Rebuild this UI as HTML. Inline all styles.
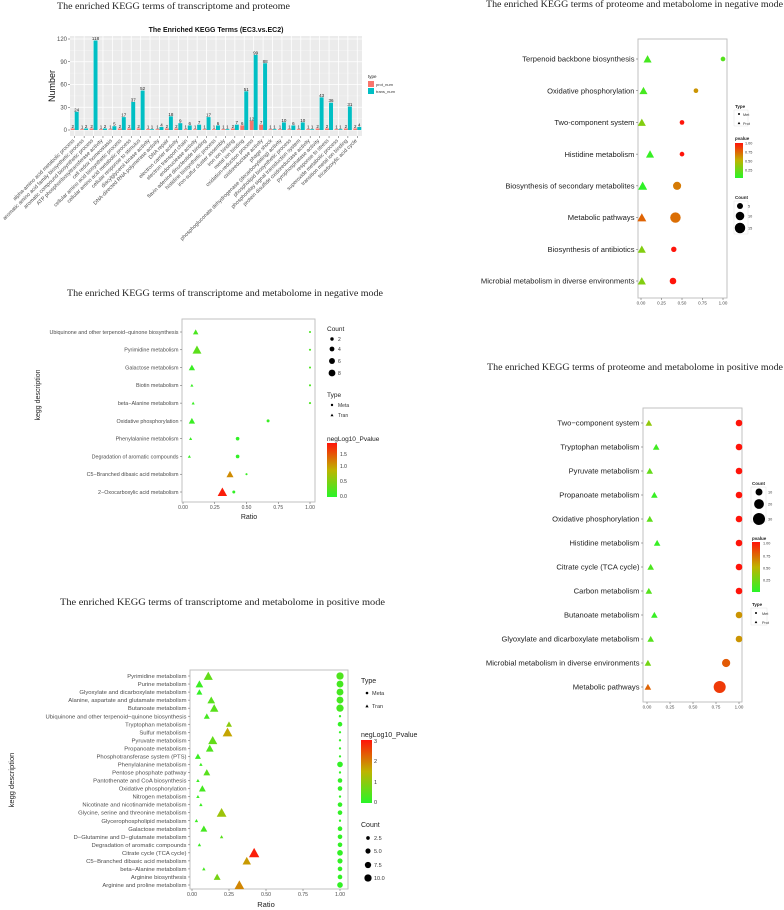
<!DOCTYPE html>
<html><head><meta charset="utf-8">
<style>
html,body{margin:0;padding:0;background:#fff;width:784px;height:910px;overflow:hidden}
svg{display:block;font-family:"Liberation Sans",sans-serif}
.ttl{font-family:"Liberation Serif",serif;font-size:9.5px;fill:#222}
</style></head>
<body>
<svg id="fig" width="784" height="910" viewBox="0 0 784 910">
<text class="ttl" x="57" y="9" textLength="233" lengthAdjust="spacingAndGlyphs">The enriched KEGG terms of transcriptome and proteome</text>
<text class="ttl" x="486" y="7" textLength="297" lengthAdjust="spacingAndGlyphs">The enriched KEGG terms of proteome and metabolome in negative mode</text>
<text class="ttl" x="67" y="296" textLength="316" lengthAdjust="spacingAndGlyphs">The enriched KEGG terms of transcriptome and metabolome in negative mode</text>
<text class="ttl" x="487" y="370" textLength="296" lengthAdjust="spacingAndGlyphs">The enriched KEGG terms of proteome and metabolome in positive mode</text>
<text class="ttl" x="60" y="605" textLength="325" lengthAdjust="spacingAndGlyphs">The enriched KEGG terms of transcriptome and metabolome in positive mode</text>
</svg>
<script>
// ---------- Panel 1: bar chart data ----------
const barCategories = ["alpha-amino acid metabolic process","aromatic amino acid family biosynthetic process","aromatic compound biosynthetic process","ATP phosphoribosyltransferase activity","cell redox homeostasis","cellular amino acid biosynthetic process","cellular amino acid metabolic process","cellular response to stimulus","diacylglycerol kinase activity","DNA-directed RNA polymerase activity","DNA repair","electron carrier activity","electron transport chain","endonuclease activity","flavin adenine dinucleotide binding","histidine biosynthetic process","iron-sulfur cluster assembly","iron ion binding","metal ion binding","oxidation-reduction process","oxidoreductase activity","phage shock","phosphogluconate dehydrogenase (decarboxylating) activity","phospholipid biosynthetic process","phosphorelay signal transduction system","protein disulfide oxidoreductase activity","pyrophosphatase activity","response to stress","superoxide metabolic process","transition metal ion binding","tricarboxylic acid cycle"];
const protNum = [2,1,2,1,1,2,2,2,1,1,2,2,1,1,1,1,1,2,6,12,7,1,1,1,1,1,2,2,1,2,2];
const transNum = [24,2,118,2,5,17,37,52,1,4,18,9,6,7,17,6,1,7,51,99,88,1,10,6,10,1,43,36,1,31,4];
const barTicks = [0,30,60,90,120];

// ---------- Panel 2: proteome & metabolome negative ----------
const p2Terms = ["Terpenoid backbone biosynthesis","Oxidative phosphorylation","Two-component system","Histidine metabolism","Biosynthesis of secondary metabolites","Metabolic pathways","Biosynthesis of antibiotics","Microbial metabolism in diverse environments"];
const p2TriRatio = [0.08,0.03,0.01,0.11,0.02,0.01,0.01,0.01];
const p2TriCount = [4,4,4,4,5,5,4,4];
const p2TriP = [0.1,0.1,0.3,0.05,0.02,0.75,0.3,0.3];
const p2CirRatio = [1.0,0.67,0.5,0.5,0.44,0.42,0.4,0.39];
const p2CirCount = [3,3,3,3,9,15,4,6];
const p2CirP = [0.15,0.6,1.0,1.0,0.68,0.72,1.0,1.0];

// ---------- Panel 3: transcriptome & metabolome negative ----------
const p3Terms = ["Ubiquinone and other terpenoid\u2212quinone biosynthesis","Pyrimidine metabolism","Galactose metabolism","Biotin metabolism","beta\u2212Alanine metabolism","Oxidative phosphorylation","Phenylalanine metabolism","Degradation of aromatic compounds","C5\u2212Branched dibasic acid metabolism","2\u2212Oxocarboxylic acid metabolism"];
const p3TriRatio = [0.1,0.11,0.07,0.07,0.08,0.07,0.06,0.05,0.37,0.31];
const p3TriCount = [3,8,4,1,1,4,1,1,5,9];
const p3TriP = [0.2,0.3,0.1,0.1,0.1,0.1,0.1,0.1,1.1,1.7];
const p3CirRatio = [1.0,1.0,1.0,1.0,1.0,0.67,0.43,0.43,0.5,0.4];
const p3CirCount = [1,1,1,1,1,2,3,3,1,2];
const p3CirP = [0.2,0.2,0.2,0.2,0.2,0.1,0.05,0.05,0.1,0.05];

// ---------- Panel 4: transcriptome & metabolome positive ----------
const p4Terms = ["Pyrimidine metabolism","Purine metabolism","Glyoxylate and dicarboxylate metabolism","Alanine, aspartate and glutamate metabolism","Butanoate metabolism","Ubiquinone and other terpenoid\u2212quinone biosynthesis","Tryptophan metabolism","Sulfur metabolism","Pyruvate metabolism","Propanoate metabolism","Phosphotransferase system (PTS)","Phenylalanine metabolism","Pentose phosphate pathway","Pantothenate and CoA biosynthesis","Oxidative phosphorylation","Nitrogen metabolism","Nicotinate and nicotinamide metabolism","Glycine, serine and threonine metabolism","Glycerophospholipid metabolism","Galactose metabolism","D\u2212Glutamine and D\u2212glutamate metabolism","Degradation of aromatic compounds","Citrate cycle (TCA cycle)","C5\u2212Branched dibasic acid metabolism","beta\u2212Alanine metabolism","Arginine biosynthesis","Arginine and proline metabolism"];
const p4TriRatio = [0.11,0.05,0.05,0.13,0.15,0.1,0.25,0.24,0.14,0.12,0.04,0.06,0.1,0.04,0.07,0.04,0.06,0.2,0.03,0.08,0.2,0.05,0.42,0.37,0.08,0.17,0.32];
const p4TriCount = [7,5,3,5,6,3,3,8,7,5,3,1,4,1,4,1,1,8,1,4,1,1,9,6,1,4,8];
const p4TriP = [0.6,0.2,0.1,0.5,0.5,0.3,1.0,1.7,0.6,0.4,0.2,0.2,0.5,0.2,0.3,0.2,0.2,1.2,0.2,0.3,0.5,0.2,3.0,1.8,0.3,0.8,2.0];
const p4CirRatio = [1,1,1,1,1,1,1,1,1,1,1,1,1,1,1,1,1,1,1,1,1,1,1,1,1,1,1];
const p4CirCount = [10,9,9,9,10,1,4,1,1,1,1,6,1,4,4,1,4,4,1,4,4,4,6,5,4,4,6];
const p4CirP = [0.4,0.3,0.3,0.3,0.3,0.1,0.1,0.1,0.1,0.1,0.1,0.1,0.1,0.1,0.1,0.1,0.1,0.1,0.1,0.1,0.1,0.1,0.1,0.1,0.1,0.1,0.1];

// ---------- Panel 5: proteome & metabolome positive ----------
const p5Terms = ["Two\u2212component system","Tryptophan metabolism","Pyruvate metabolism","Propanoate metabolism","Oxidative phosphorylation","Histidine metabolism","Citrate cycle (TCA cycle)","Carbon metabolism","Butanoate metabolism","Glyoxylate and dicarboxylate metabolism","Microbial metabolism in diverse environments","Metabolic pathways"];
const p5TriRatio = [0.02,0.1,0.03,0.08,0.03,0.11,0.04,0.02,0.08,0.04,0.01,0.01];
const p5TriCount = [4,4,4,4,4,4,4,4,4,4,4,4];
const p5TriP = [0.35,0.08,0.2,0.05,0.18,0.05,0.12,0.15,0.05,0.15,0.25,0.75];
const p5CirRatio = [1,1,1,1,1,1,1,1,1,1,0.86,0.79];
const p5CirCount = [9,9,9,9,9,9,9,9,9,9,14,30];
const p5CirP = [1,1,1,1,1,1,1,1,0.6,0.6,0.78,0.88];

const svg = document.getElementById('fig');
const NS = 'http://www.w3.org/2000/svg';
function mk(tag, attrs, parent){
  const e = document.createElementNS(NS, tag);
  for (const k in attrs) e.setAttribute(k, attrs[k]);
  (parent||svg).appendChild(e);
  return e;
}
function txt(x,y,s,size,fill,anchor,extra){
  const t = mk('text', Object.assign({x:x,y:y,'font-size':size,fill:fill||'#4d4d4d','text-anchor':anchor||'start'}, extra||{}));
  t.textContent = s;
  return t;
}
function lerp(a,b,t){return Math.round(a+(b-a)*t);}
function pcolor(f){
  f=Math.max(0,Math.min(1,f));
  const s=[[0,[40,245,40]],[0.5,[190,180,0]],[1,[255,20,10]]];
  let i = f<=0.5?0:1; const a=s[i], b=s[i+1]; const t=(f-a[0])/(b[0]-a[0]);
  return 'rgb('+lerp(a[1][0],b[1][0],t)+','+lerp(a[1][1],b[1][1],t)+','+lerp(a[1][2],b[1][2],t)+')';
}
function tri(cx,cy,h,fill){
  return mk('polygon',{points:(cx-h)+','+(cy+h*0.85)+' '+(cx+h)+','+(cy+h*0.85)+' '+cx+','+(cy-h*0.95),fill:fill});
}

// ================= Panel 1: bar chart =================
(function(){
  const L=70,R=362,T=36,B=136;
  const y0=130, yTop=39, vTop=120;
  const yS = v => y0 - (v/vTop)*(y0-yTop);
  const bw=(R-L)/barCategories.length;
  const xC = i => L + bw*(i+0.5);
  const bg=mk('rect',{x:L,y:T,width:R-L,height:B-T,fill:'#ebebeb'});
  
  
  for(let v=15; v<=vTop; v+=30) mk('line',{x1:L,x2:R,y1:yS(v),y2:yS(v),stroke:'#f5f5f5','stroke-width':0.5});
  barTicks.forEach(v=>{
    mk('line',{x1:L,x2:R,y1:yS(v),y2:yS(v),stroke:'#fff','stroke-width':0.8});
    mk('line',{x1:L-2,x2:L,y1:yS(v),y2:yS(v),stroke:'#444','stroke-width':0.5});
    const t=txt(L-3,yS(v)+2,String(v),6,'#4d4d4d','end');
    
    
  });
  barCategories.forEach((c,i)=>{
    mk('line',{x1:xC(i),x2:xC(i),y1:T,y2:B,stroke:'#fff','stroke-width':0.8});
  });
  barCategories.forEach((c,i)=>{
    const x=xC(i), w=bw*0.42;
    const r1=mk('rect',{x:x-w,y:yS(protNum[i]),width:w,height:y0-yS(protNum[i]),fill:'#f8766d'});
    
    
    const r2=mk('rect',{x:x,y:yS(transNum[i]),width:w,height:y0-yS(transNum[i]),fill:'#00bfc4'});
    
    
    txt(x-w/2,yS(protNum[i])-0.5,String(protNum[i]),4.5,'#222','middle');
    txt(x+w/2,yS(transNum[i])-0.5,String(transNum[i]),4.5,'#222','middle');
    mk('line',{x1:x,x2:x,y1:B,y2:B+2,stroke:'#444','stroke-width':0.5});
    const lb=txt(x,B+5,c,5.3,'#4d4d4d','end',{transform:'rotate(-45 '+x+' '+(B+5)+')'});
    
    
  });
  const ct=txt((L+R)/2,32,'The Enriched KEGG Terms (EC3.vs.EC2)',7,'#111','middle',{'font-weight':'bold'});
  
  
  const yl=txt(55,86,'Number',9,'#111','middle',{transform:'rotate(-90 55 86)'});
  
  
  txt(368,78,'type',4.5,'#222');
  const lg1=mk('rect',{x:368,y:81,width:6,height:6,fill:'#f8766d'});
  
  
  txt(376,86,'prot_num',4,'#333');
  const lg2=mk('rect',{x:368,y:88,width:6,height:6,fill:'#00bfc4'});
  
  
  txt(376,93,'trans_num',4,'#333');
})();

// ================= generic dot panel =================
function dotPanel(o){
  const box=mk('rect',{x:o.L,y:o.T,width:o.R-o.L,height:o.B-o.T,fill:'#fff',stroke:'#bcbcbc','stroke-width':0.9});
  
  
  const xS = v => o.x0 + v*(o.x1-o.x0);
  const n=o.terms.length;
  const yS = i => o.yFirst + i*(o.yLast-o.yFirst)/(n-1);
  ['0.00','0.25','0.50','0.75','1.00'].forEach(s=>{
    const v=parseFloat(s);
    mk('line',{x1:xS(v),x2:xS(v),y1:o.B,y2:o.B+2,stroke:'#555','stroke-width':0.5});
    const t=txt(xS(v),o.B+2+o.tickFs,s,o.tickFs,'#4d4d4d','middle');
    
    
  });
  o.terms.forEach((term,i)=>{
    const y=yS(i);
    mk('line',{x1:o.L-2,x2:o.L,y1:y,y2:y,stroke:'#555','stroke-width':0.5});
    const t=txt(o.L-3.5,y+o.labFs*0.35,term,o.labFs,o.labFill,'end');
    
    
  });
  o.terms.forEach((term,i)=>{
    const y=yS(i);
    const rc=o.k*Math.sqrt(o.cirCount[i]);
    const c=mk('circle',{cx:xS(o.cirRatio[i]),cy:y,r:rc,fill:pcolor(o.cirP[i]/o.pMax)});
    
    
    const rt=o.k*Math.sqrt(o.triCount[i])*1.5;
    const p=tri(xS(o.triRatio[i]),y,rt,pcolor(o.triP[i]/o.pMax));
    
    
  });
}
function gradBar(id,x,y,w,h){
  const defs=mk('defs',{});
  const g=mk('linearGradient',{id:id,x1:0,y1:1,x2:0,y2:0},defs);
  [0,0.25,0.5,0.75,1].forEach(f=>mk('stop',{offset:f,'stop-color':pcolor(f)},g));
  const r=mk('rect',{x:x,y:y,width:w,height:h,fill:'url(#'+id+')'});
  
  
}

// Panel 2
dotPanel({name:'prot-met-neg',terms:p2Terms,triRatio:p2TriRatio,triCount:p2TriCount,triP:p2TriP,cirRatio:p2CirRatio,cirCount:p2CirCount,cirP:p2CirP,pMax:1,
  L:638,R:727,T:39,B:298,x0:641,x1:723,yFirst:59,yLast:281,k:1.35,labFs:7.6,labFill:'#222',tickFs:4.5});
(function(){
  txt(735,108,'Type',4.5,'#222','start',{'font-weight':'bold'});
  mk('rect',{x:734,y:110,width:14,height:16,fill:'none',stroke:'#ddd','stroke-width':0.4});
  mk('circle',{cx:739,cy:114,r:1,fill:'#000'}); txt(743,116,'Met',3.8,'#333');
  tri(739,123,1.3,'#000'); txt(743,125,'Prot',3.8,'#333');
  txt(735,140,'pvalue',4.5,'#222','start',{'font-weight':'bold'});
  gradBar('g2',735,143,8,35);
  [['1.00',143],['0.75',152],['0.50',161],['0.25',170]].forEach(a=>txt(745,a[1]+1.5,a[0],3.8,'#333'));
  txt(735,199,'Count',4.5,'#222','start',{'font-weight':'bold'});
  mk('rect',{x:734,y:201,width:14,height:33,fill:'none',stroke:'#ddd','stroke-width':0.4});
  [[5,206],[10,216],[15,228]].forEach(a=>{mk('circle',{cx:740,cy:a[1],r:1.35*Math.sqrt(a[0]),fill:'#000'});txt(748,a[1]+1.5,String(a[0]),3.8,'#333');});
})();

// Panel 3
dotPanel({name:'tran-met-neg',terms:p3Terms,triRatio:p3TriRatio,triCount:p3TriCount,triP:p3TriP,cirRatio:p3CirRatio,cirCount:p3CirCount,cirP:p3CirP,pMax:1.75,
  L:182,R:315,T:319,B:502,x0:183,x1:310,yFirst:332,yLast:492,k:1.05,labFs:5.4,labFill:'#4d4d4d',tickFs:5});
(function(){
  const yt=txt(40,395,'kegg description',7,'#222','middle',{transform:'rotate(-90 40 395)'});
  
  
  const xt=txt(249,519,'Ratio',7,'#222','middle');
  
  
  txt(327,331,'Count',6.5,'#222');
  [[2,339],[4,349],[6,361],[8,373]].forEach(a=>{mk('circle',{cx:332,cy:a[1],r:1.05*Math.sqrt(a[0])*1.15,fill:'#000'});txt(338,a[1]+2,String(a[0]),5,'#333');});
  txt(327,397,'Type',6.5,'#222');
  mk('circle',{cx:332,cy:405,r:1.2,fill:'#000'}); txt(338,407,'Meta',5,'#333');
  tri(332,415,1.5,'#000'); txt(338,417,'Tran',5,'#333');
  txt(327,441,'negLog10_Pvalue',6.5,'#222');
  gradBar('g3',327,443,10,54);
  [['1.5',454],['1.0',466],['0.5',481],['0.0',496]].forEach(a=>txt(340,a[1]+2,a[0],5,'#333'));
})();

// Panel 4
dotPanel({name:'tran-met-pos',terms:p4Terms,triRatio:p4TriRatio,triCount:p4TriCount,triP:p4TriP,cirRatio:p4CirRatio,cirCount:p4CirCount,cirP:p4CirP,pMax:3.1,
  L:190,R:348,T:670,B:889,x0:192,x1:340,yFirst:676,yLast:885,k:1.15,labFs:5.9,labFill:'#4d4d4d',tickFs:5.2});
(function(){
  const yt=txt(14,780,'kegg description',7.5,'#222','middle',{transform:'rotate(-90 14 780)'});
  
  
  const xt=txt(266,907,'Ratio',7.5,'#222','middle');
  
  
  txt(361,683,'Type',7,'#222');
  mk('circle',{cx:367,cy:693,r:1.3,fill:'#000'}); txt(372,695,'Meta',5.5,'#333');
  tri(367,706,1.6,'#000'); txt(372,708,'Tran',5.5,'#333');
  txt(361,737,'negLog10_Pvalue',7,'#222');
  gradBar('g4',361,740,11,63);
  [['3',741],['2',761],['1',782],['0',802]].forEach(a=>txt(374,a[1]+2,a[0],5.5,'#333'));
  txt(361,827,'Count',7,'#222');
  [['2.5',2.5,838],['5.0',5,851],['7.5',7.5,865],['10.0',10,878]].forEach(a=>{mk('circle',{cx:368,cy:a[2],r:1.15*Math.sqrt(a[1]),fill:'#000'});txt(374,a[2]+2,a[0],5.5,'#333');});
})();

// Panel 5
dotPanel({name:'prot-met-pos',terms:p5Terms,triRatio:p5TriRatio,triCount:p5TriCount,triP:p5TriP,cirRatio:p5CirRatio,cirCount:p5CirCount,cirP:p5CirP,pMax:1,
  L:643,R:742,T:408,B:702,x0:647,x1:739,yFirst:423,yLast:687,k:1.1,labFs:7.6,labFill:'#222',tickFs:4.5});
(function(){
  txt(752,485,'Count',4.5,'#222','start',{'font-weight':'bold'});
  mk('rect',{x:751,y:487,width:15,height:35,fill:'none',stroke:'#ddd','stroke-width':0.4});
  [[10,492],[20,504],[30,519]].forEach(a=>{mk('circle',{cx:759,cy:a[1],r:1.1*Math.sqrt(a[0]),fill:'#000'});txt(768,a[1]+1.5,String(a[0]),3.8,'#333');});
  txt(752,540,'pvalue',4.5,'#222','start',{'font-weight':'bold'});
  gradBar('g5',752,542,8,50);
  [['1.00',543],['0.75',556],['0.50',568],['0.25',580]].forEach(a=>txt(763,a[1]+1.5,a[0],3.8,'#333'));
  txt(752,606,'Type',4.5,'#222','start',{'font-weight':'bold'});
  mk('rect',{x:751,y:608,width:16,height:17,fill:'none',stroke:'#ddd','stroke-width':0.4});
  mk('circle',{cx:756,cy:613,r:1,fill:'#000'}); txt(762,615,'Met',3.8,'#333');
  tri(756,622,1.3,'#000'); txt(762,624,'Prot',3.8,'#333');
})();
</script>
</body></html>
